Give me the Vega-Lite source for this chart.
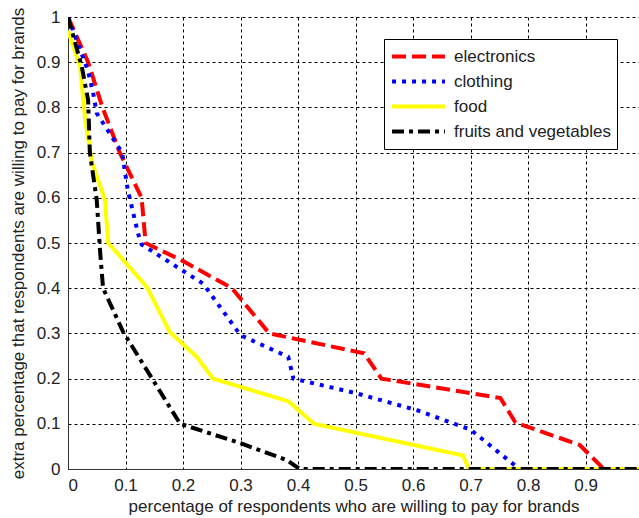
{
  "$schema": "https://vega.github.io/schema/vega-lite/v6.json",
  "width": 571,
  "height": 452,
  "autosize": {"type": "none"},
  "padding": {"left": 68, "top": 17, "right": 0, "bottom": 49},
  "background": "white",
  "config": {
    "view": {"stroke": null},
    "font": "Liberation Sans",
    "axis": {
      "labelFont": "Liberation Sans",
      "titleFont": "Liberation Sans",
      "labelFontSize": 17,
      "titleFontSize": 17,
      "titleFontWeight": "normal",
      "labelColor": "#222",
      "titleColor": "#222",
      "domainColor": "#333",
      "domainWidth": 1,
      "tickSize": 0,
      "grid": true,
      "gridColor": "#000",
      "gridOpacity": 1,
      "gridDash": [3, 3],
      "gridWidth": 1
    },
    "legend": {
      "labelFont": "Liberation Sans",
      "labelFontSize": 17,
      "labelColor": "#222"
    }
  },
  "datasets": {
    "curves": [
      {"s": "electronics", "i": 0, "x": 0, "y": 1},
      {"s": "electronics", "i": 1, "x": 0.035, "y": 0.9},
      {"s": "electronics", "i": 2, "x": 0.06, "y": 0.8},
      {"s": "electronics", "i": 3, "x": 0.09, "y": 0.7},
      {"s": "electronics", "i": 4, "x": 0.128, "y": 0.6},
      {"s": "electronics", "i": 5, "x": 0.135, "y": 0.5},
      {"s": "electronics", "i": 6, "x": 0.2, "y": 0.46},
      {"s": "electronics", "i": 7, "x": 0.285, "y": 0.4},
      {"s": "electronics", "i": 8, "x": 0.35, "y": 0.3},
      {"s": "electronics", "i": 9, "x": 0.515, "y": 0.256},
      {"s": "electronics", "i": 10, "x": 0.545, "y": 0.2},
      {"s": "electronics", "i": 11, "x": 0.752, "y": 0.157},
      {"s": "electronics", "i": 12, "x": 0.778, "y": 0.103},
      {"s": "electronics", "i": 13, "x": 0.89, "y": 0.053},
      {"s": "electronics", "i": 14, "x": 0.932, "y": 0},
      {"s": "electronics", "i": 15, "x": 1, "y": 0},
      {"s": "clothing", "i": 0, "x": 0, "y": 1},
      {"s": "clothing", "i": 1, "x": 0.035, "y": 0.88},
      {"s": "clothing", "i": 2, "x": 0.044, "y": 0.83},
      {"s": "clothing", "i": 3, "x": 0.05, "y": 0.787},
      {"s": "clothing", "i": 4, "x": 0.094, "y": 0.7},
      {"s": "clothing", "i": 5, "x": 0.104, "y": 0.617},
      {"s": "clothing", "i": 6, "x": 0.122, "y": 0.52},
      {"s": "clothing", "i": 7, "x": 0.128, "y": 0.497},
      {"s": "clothing", "i": 8, "x": 0.198, "y": 0.44},
      {"s": "clothing", "i": 9, "x": 0.235, "y": 0.41},
      {"s": "clothing", "i": 10, "x": 0.3, "y": 0.296},
      {"s": "clothing", "i": 11, "x": 0.383, "y": 0.248},
      {"s": "clothing", "i": 12, "x": 0.392, "y": 0.2},
      {"s": "clothing", "i": 13, "x": 0.5, "y": 0.168},
      {"s": "clothing", "i": 14, "x": 0.607, "y": 0.13},
      {"s": "clothing", "i": 15, "x": 0.7, "y": 0.087},
      {"s": "clothing", "i": 16, "x": 0.785, "y": 0},
      {"s": "clothing", "i": 17, "x": 1, "y": 0},
      {"s": "food", "i": 0, "x": 0, "y": 0.97},
      {"s": "food", "i": 1, "x": 0.021, "y": 0.89},
      {"s": "food", "i": 2, "x": 0.03, "y": 0.772},
      {"s": "food", "i": 3, "x": 0.042, "y": 0.677},
      {"s": "food", "i": 4, "x": 0.064, "y": 0.597},
      {"s": "food", "i": 5, "x": 0.07, "y": 0.5},
      {"s": "food", "i": 6, "x": 0.137, "y": 0.403},
      {"s": "food", "i": 7, "x": 0.177, "y": 0.303},
      {"s": "food", "i": 8, "x": 0.224, "y": 0.248},
      {"s": "food", "i": 9, "x": 0.252, "y": 0.2},
      {"s": "food", "i": 10, "x": 0.383, "y": 0.15},
      {"s": "food", "i": 11, "x": 0.428, "y": 0.1},
      {"s": "food", "i": 12, "x": 0.687, "y": 0.03},
      {"s": "food", "i": 13, "x": 0.697, "y": 0},
      {"s": "food", "i": 14, "x": 1, "y": 0},
      {"s": "fruits and vegetables", "i": 0, "x": 0, "y": 1},
      {"s": "fruits and vegetables", "i": 1, "x": 0.024, "y": 0.89},
      {"s": "fruits and vegetables", "i": 2, "x": 0.035, "y": 0.816},
      {"s": "fruits and vegetables", "i": 3, "x": 0.038, "y": 0.7},
      {"s": "fruits and vegetables", "i": 4, "x": 0.05, "y": 0.595},
      {"s": "fruits and vegetables", "i": 5, "x": 0.056, "y": 0.478},
      {"s": "fruits and vegetables", "i": 6, "x": 0.061, "y": 0.4},
      {"s": "fruits and vegetables", "i": 7, "x": 0.096, "y": 0.303},
      {"s": "fruits and vegetables", "i": 8, "x": 0.195, "y": 0.1},
      {"s": "fruits and vegetables", "i": 9, "x": 0.3, "y": 0.057},
      {"s": "fruits and vegetables", "i": 10, "x": 0.38, "y": 0.02},
      {"s": "fruits and vegetables", "i": 11, "x": 0.403, "y": 0},
      {"s": "fruits and vegetables", "i": 12, "x": 1, "y": 0}
    ]
  },
  "layer": [
    {
      "data": {"name": "curves"},
      "mark": {"type": "line", "clip": true, "strokeWidth": 4, "strokeCap": "butt", "strokeJoin": "miter"},
      "encoding": {
        "x": {
          "field": "x",
          "type": "quantitative",
          "scale": {"domain": [0, 0.993], "nice": false, "zero": false},
          "axis": {
            "values": [0, 0.1, 0.2, 0.3, 0.4, 0.5, 0.6, 0.7, 0.8, 0.9],
            "format": "~g",
            "title": "percentage of respondents who are willing to pay for brands",
            "labelPadding": 8,
            "titlePadding": 5
          }
        },
        "y": {
          "field": "y",
          "type": "quantitative",
          "scale": {"domain": [0, 1], "nice": false},
          "axis": {
            "values": [0, 0.1, 0.2, 0.3, 0.4, 0.5, 0.6, 0.7, 0.8, 0.9, 1],
            "format": "~g",
            "title": "extra percentage that respondents are willing to pay for brands",
            "labelPadding": 8,
            "titlePadding": 9
          }
        },
        "order": {"field": "i", "type": "quantitative"},
        "color": {
          "field": "s",
          "type": "nominal",
          "scale": {
            "domain": ["electronics", "clothing", "food", "fruits and vegetables"],
            "range": ["#ff0000", "#0000ff", "#ffff00", "#000000"]
          },
          "legend": {
            "title": null,
            "orient": "none",
            "legendX": 316,
            "legendY": 22,
            "symbolType": "stroke",
            "symbolSize": 2800,
            "symbolStrokeWidth": 4,
            "labelOffset": 7,
            "rowPadding": 2,
            "clipHeight": 23,
            "padding": 6,
            "strokeColor": "#000",
            "fillColor": "#fff",
            "cornerRadius": 0
          }
        },
        "strokeDash": {
          "field": "s",
          "type": "nominal",
          "scale": {
            "domain": ["electronics", "clothing", "food", "fruits and vegetables"],
            "range": [[14, 6], [4, 6], [1, 0], [12, 5, 4, 5]]
          },
          "legend": {
            "title": null,
            "orient": "none",
            "legendX": 316,
            "legendY": 22,
            "symbolType": "stroke",
            "symbolSize": 2800,
            "symbolStrokeWidth": 4,
            "labelOffset": 7,
            "rowPadding": 2,
            "clipHeight": 23,
            "padding": 6,
            "strokeColor": "#000",
            "fillColor": "#fff",
            "cornerRadius": 0
          }
        }
      }
    },
    {
      "mark": {"type": "rule", "color": "#333", "strokeWidth": 1},
      "encoding": {"y": {"datum": 1}}
    }
  ]
}
